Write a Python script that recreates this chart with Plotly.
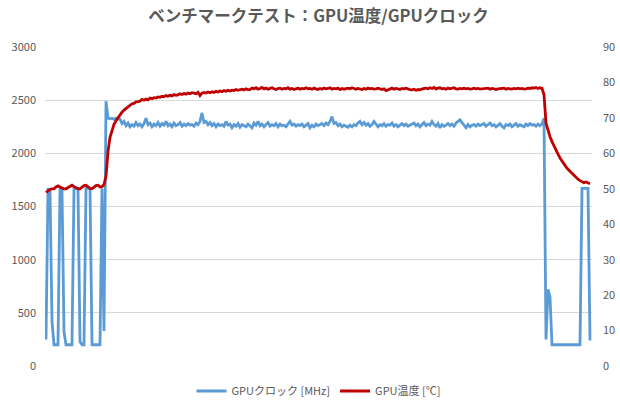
import plotly.graph_objects as go

title_text = "ベンチマークテスト：GPU温度/GPUクロック"
clock_name = "GPUクロック [MHz]"
temp_name = "GPU温度 [℃]"

left_ticks = [0, 500, 1000, 1500, 2000, 2500, 3000]
right_ticks = [0, 10, 20, 30, 40, 50, 60, 70, 80, 90]

clock_mhz = [
    250, 1660, 1660, 420, 200, 200, 200, 1660, 1660, 320,
    200, 200, 200, 200, 1670, 1670, 1670, 230, 200, 200,
    1670, 1670, 1670, 200, 200, 200, 200, 200, 1670, 330,
    2490, 2330, 2325, 2330, 2320, 2330, 2325, 2320, 2280, 2300,
    2260, 2285, 2250, 2270, 2255, 2290, 2260, 2275, 2250, 2280,
    2330, 2270, 2285, 2250, 2275, 2260, 2290, 2255, 2280, 2265,
    2300, 2260, 2275, 2250, 2285, 2260, 2270, 2290, 2255, 2275,
    2260, 2280, 2265, 2270, 2255, 2285, 2270, 2300, 2380, 2290,
    2300, 2270, 2290, 2260, 2280, 2250, 2275, 2260, 2270, 2255,
    2300, 2265, 2275, 2240, 2270, 2255, 2280, 2245, 2270, 2260,
    2250, 2275, 2260, 2240, 2285, 2265, 2300, 2260, 2275, 2250,
    2270, 2290, 2255, 2270, 2260, 2280, 2250, 2275, 2260, 2265,
    2250, 2270, 2300, 2265, 2275, 2255, 2270, 2260, 2275, 2250,
    2265, 2280, 2240, 2265, 2250, 2275, 2260, 2270, 2280, 2260,
    2285, 2270, 2300, 2345, 2280, 2290, 2260, 2275, 2250, 2265,
    2255, 2245, 2265, 2250, 2270, 2260, 2285, 2300, 2270, 2290,
    2265, 2280, 2255, 2270, 2300, 2275, 2250, 2270, 2260, 2280,
    2255, 2270, 2265, 2285, 2255, 2270, 2250, 2265, 2280, 2260,
    2275, 2255, 2265, 2270, 2285, 2260, 2275, 2250, 2270, 2290,
    2260, 2275, 2265, 2300, 2270, 2255, 2280, 2240, 2270, 2255,
    2265, 2280, 2260, 2275, 2255, 2285, 2300, 2315, 2290, 2265,
    2240, 2270, 2250, 2265, 2270, 2255, 2275, 2260, 2270, 2280,
    2255, 2270, 2285, 2260, 2270, 2250, 2265, 2280, 2255, 2240,
    2270, 2260, 2275, 2250, 2265, 2280, 2255, 2270, 2260, 2250,
    2275, 2260, 2280, 2265, 2270, 2255, 2275, 2260, 2275, 2330,
    250, 720, 650, 200, 200, 200, 200, 200, 200, 200,
    200, 200, 200, 200, 200, 200, 200, 200, 1670, 1670,
    1670, 1670, 240,
]

temp_c = [
    49.0, 49.5, 49.8, 50.0, 50.0, 50.5, 50.8, 50.5, 50.2, 50.0,
    50.0, 50.3, 50.8, 51.0, 50.6, 50.2, 50.0, 50.0, 50.4, 50.9,
    51.0, 50.5, 50.1, 50.0, 50.4, 50.9, 51.0, 50.5, 50.6, 51.2,
    53.5, 60.5, 64.5, 66.6, 68.2, 69.2, 70.1, 71.0, 71.6, 72.2,
    72.7, 73.2, 73.6, 74.0, 74.1, 74.5, 74.6, 74.7, 75.2, 75.0,
    75.3, 75.1, 75.6, 75.4, 75.7, 75.6, 75.9, 75.8, 76.1, 76.0,
    76.3, 76.1, 76.4, 76.2, 76.6, 76.4, 76.5, 76.8, 76.6, 76.9,
    76.7, 77.0, 76.8, 77.1, 77.0, 76.8, 77.2, 76.3, 77.0, 77.2,
    77.0, 77.3, 77.1, 77.4, 77.2, 77.5, 77.3, 77.6, 77.4, 77.7,
    77.5, 77.8, 77.6, 77.8, 77.7, 78.0, 77.8, 77.9, 78.1, 77.9,
    78.2, 78.0,
    78.0, 78.4, 78.2, 78.5, 78.1, 78.3, 78.6, 78.2, 78.4, 78.1,
    78.3, 78.5, 78.2, 78.0, 78.3, 78.4, 78.1, 78.3, 78.2, 78.5,
    78.1, 78.3, 78.0, 78.2, 78.4, 78.1, 78.3, 78.2, 78.5, 78.2,
    78.3, 78.1, 78.4, 78.2, 78.0, 78.3, 78.1, 78.4, 78.2, 78.3,
    78.5, 78.1, 78.3, 78.2, 78.4, 78.0, 78.3, 78.1, 78.2, 78.4,
    78.2, 78.5, 78.3, 78.1, 78.3, 78.2, 78.0, 78.3, 78.1, 78.4,
    78.2, 78.3, 78.1, 78.2, 78.4, 78.2, 78.0, 78.2, 77.7, 77.9,
    78.2, 78.4, 78.1, 78.3, 78.2, 78.0, 78.3, 78.2, 78.4, 78.1,
    78.0, 77.9, 78.1, 77.8, 78.0, 77.9, 78.2, 78.3, 78.4, 78.2,
    78.5, 78.3, 78.6, 78.2, 78.4, 78.5, 78.2, 78.3, 78.1, 78.4,
    78.2, 78.3, 78.5, 78.2, 78.1, 78.3, 78.2, 78.4, 78.2, 78.3,
    78.1, 78.2, 78.4, 78.2, 78.3, 78.1, 78.2, 78.3, 78.2, 78.4,
    78.1, 78.3, 78.2, 78.0, 78.2, 78.3, 78.2, 78.4, 78.1, 78.3,
    78.2, 78.1, 78.3, 78.2, 78.4, 78.2, 78.3, 78.1, 78.2, 78.4,
    78.3, 78.5, 78.4, 78.6, 78.3, 78.5, 78.4,
    76.5, 68.5, 66.3, 64.7, 63.3, 62.0, 60.8, 59.8, 58.7, 57.8,
    57.0, 56.2, 55.5, 54.9, 54.2, 53.7, 53.2, 52.7, 52.3, 52.0,
    51.7, 51.9, 51.6, 51.4,
]

n = min(len(clock_mhz), len(temp_c))
sample = list(range(n))

grey = "#595959"
font_family = "Noto Sans CJK JP, Noto Sans, sans-serif"

fig = go.Figure()
fig.add_trace(go.Scatter(
    x=sample, y=clock_mhz[:n], name=clock_name, mode="lines",
    line=dict(color="#5B9BD5", width=2.8), yaxis="y",
))
fig.add_trace(go.Scatter(
    x=sample, y=temp_c[:n], name=temp_name, mode="lines",
    line=dict(color="#C00000", width=2.8), yaxis="y2",
))

fig.update_layout(
    width=620, height=400,
    margin=dict(l=45, r=28, t=47, b=34, autoexpand=False),
    paper_bgcolor="white", plot_bgcolor="white",
    font=dict(family=font_family, size=11, color=grey),
    title=dict(
        text="<b>" + title_text + "</b>",
        x=0.5, xanchor="center", xref="paper",
        y=1 - 16 / 400, yanchor="middle", yref="container",
        font=dict(size=16.5, color=grey, family=font_family),
    ),
    xaxis=dict(
        range=[-0.5, 273], showticklabels=False, showgrid=False,
        zeroline=False, showline=False, ticks="",
    ),
    yaxis=dict(
        range=[0, 3000], tickvals=left_ticks, ticks="",
        showgrid=True, gridcolor="#d9d9d9", gridwidth=1,
        zeroline=False, showline=False, ticklabelstandoff=8,
        tickfont=dict(size=11, color=grey),
    ),
    yaxis2=dict(
        range=[0, 90], tickvals=right_ticks, ticks="",
        overlaying="y", side="right", showgrid=False,
        zeroline=False, showline=False, ticklabelstandoff=10,
        tickfont=dict(size=11, color=grey),
    ),
    legend=dict(
        orientation="h", x=0.5, xanchor="center",
        yref="container", y=1 - 391 / 400, yanchor="middle",
        font=dict(size=11, color=grey),
        bgcolor="rgba(0,0,0,0)",
    ),
    showlegend=True,
)

fig.write_html("out.html")
